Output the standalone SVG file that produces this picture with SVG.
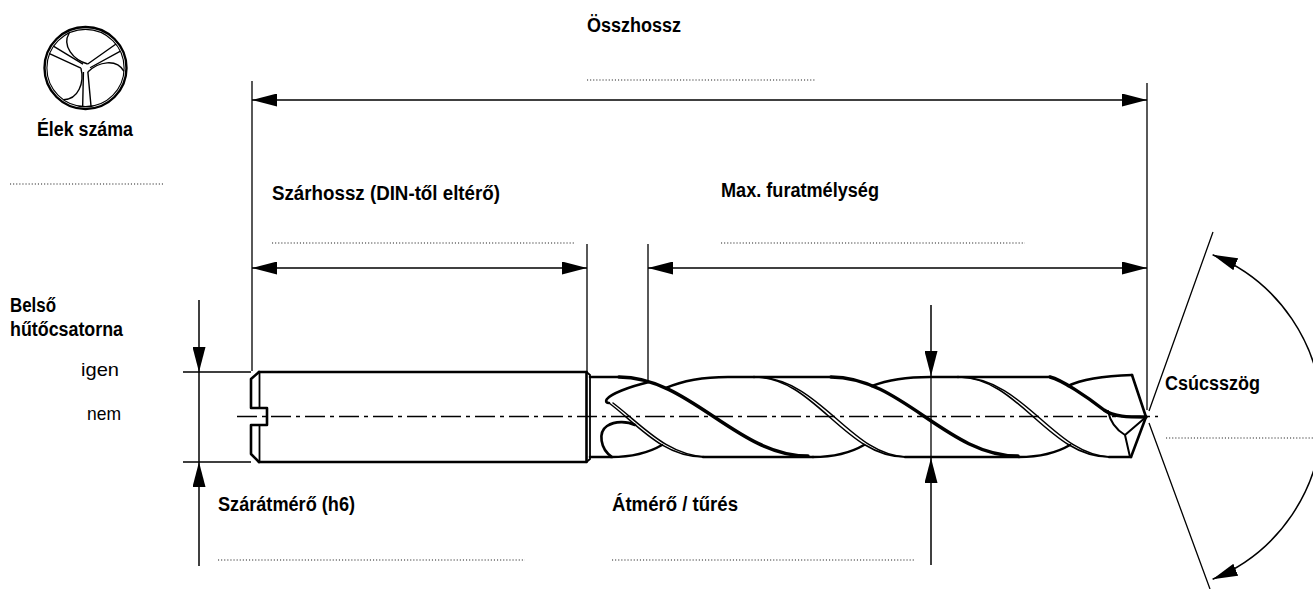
<svg xmlns="http://www.w3.org/2000/svg" xmlns:xlink="http://www.w3.org/1999/xlink" width="1313" height="589" viewBox="0 0 1313 589">
<style>
.o{fill:none;stroke:#000;stroke-width:2.6;stroke-linejoin:round;stroke-linecap:round}
.t{fill:none;stroke:#000;stroke-width:3.4;stroke-linecap:round}
.f{fill:none;stroke:#000;stroke-width:1.5;stroke-linecap:round}
.d{fill:none;stroke:#000;stroke-width:1.5}
.e{fill:none;stroke:#000;stroke-width:1.3}
.dot{fill:none;stroke:#222;stroke-width:1.2;stroke-dasharray:1.1 2}
.ctr{fill:none;stroke:#000;stroke-width:1.4;stroke-dasharray:20 5 4 5}
.lb{font-family:"Liberation Sans",Arial,sans-serif;font-weight:bold;font-size:19.5px;fill:#000}
.lr{font-family:"Liberation Sans",Arial,sans-serif;font-size:19px;fill:#000}
</style>
<defs>
<marker id="ah" viewBox="0 0 25 13" refX="25" refY="6.5" markerWidth="25" markerHeight="13" markerUnits="userSpaceOnUse" orient="auto-start-reverse">
<path d="M0,0 L25,6.5 L0,13 z" fill="#000"/>
</marker>
<g id="flute">
<path d="M-16.3,-35 C-24,-22 -12,-8 2.2,-4" fill="none" stroke="#000" stroke-width="1.4"/>
<path d="M4.56,-0.25 L34.96,-16.9 M2.22,-3.99 L30.5,-24" fill="none" stroke="#000" stroke-width="1.4"/>
</g>
</defs>
<rect width="1313" height="589" fill="#fff"/>

<g id="icon" transform="translate(85.5,68)">
<circle r="41" fill="none" stroke="#000" stroke-width="2.4"/>
<circle r="38.6" fill="none" stroke="#000" stroke-width="1.1"/>
<use xlink:href="#flute"/>
<use xlink:href="#flute" transform="rotate(120)"/>
<use xlink:href="#flute" transform="rotate(240)"/>
</g>

<g id="drill">
<path class="o" d="M259,372 L586,372 M259,462 L586,462"/>
<path class="o" d="M259,372 L251,379 L251,408 L267,408 L267,425 L251,425 L251,454 L259,462"/>
<path class="f" d="M259.5,372 L259.5,408 M259.5,425 L259.5,462" style="stroke-width:1.8"/>
<path class="o" d="M586.5,372 L586.5,462"/>
<path class="f" d="M586.5,372 L590,375 L590,459 L586.5,462" style="stroke-width:1.8"/>
<path class="o" d="M590,377 L619,377 M754,377 L831,377 M958,377 L1050,377"/>
<path class="o" d="M590,457 L611,457 M703,457 L813,457 M905,457 L1019,457 M1109,457 L1131,457"/>
<path class="t" d="M619,377 C690,377 737,456 808,456"/>
<path class="t" d="M831,377 C902,377 947,456 1018,456"/>
<path class="t" d="M1050,377 C1062,380 1086,396 1104,410 C1114,417 1128,417 1146,417"/>
<path class="o" d="M666,388 C684,380 705,377 728,377 L754,377"/>
<path class="o" d="M872,386 C890,379 910,377 930,377 L958,377"/>
<path class="o" d="M1068,386 C1082,379 1102,376 1132,375"/>
<path class="o" d="M649,382 C628,387 611,394 607,399 C605,402 607,403 609,403"/>
<path class="o" d="M612,457 C600,449 598,432 607,426 C615,421 627,421 635,425"/>
<path class="f" d="M609,403 C636,423 662,457 703,457"/>
<path class="f" d="M613,403 C641,424 667,456 707,457"/>
<path class="f" d="M754,377 C815,377 844,457 905,457"/>
<path class="f" d="M756,377 C821,378 850,456 907,457"/>
<path class="f" d="M958,377 C1019,377 1048,457 1109,457"/>
<path class="f" d="M960,377 C1025,378 1054,456 1111,457"/>
<path class="o" d="M611,457 C631,457 650,452 662,445"/>
<path class="o" d="M813,457 C835,457 852,452 864,445"/>
<path class="o" d="M1019,457 C1041,457 1058,452 1070,445"/>
<path class="o" d="M1132,375 L1146,417 L1131,457"/>
<path class="o" d="M1108,411 C1110,421 1115,429 1125,435 L1146,417 M1125,435 L1130,457" style="stroke-width:2"/>
<path class="ctr" d="M237,416.5 L1158,416.5"/>
</g>

<g id="connectors">
<path class="e" d="M252,81 L252,371 M1147,83 L1147,410 M587,244 L587,372 M648,244 L648,382"/>
<path class="e" d="M183,372 L251,372 M183,462 L251,462"/>
<path class="d" d="M252,100 L1147,100" marker-start="url(#ah)" marker-end="url(#ah)"/>
<path class="d" d="M252,268 L587,268" marker-start="url(#ah)" marker-end="url(#ah)"/>
<path class="d" d="M648,268 L1147,268" marker-start="url(#ah)" marker-end="url(#ah)"/>
<path class="d" d="M199,300 L199,372" marker-end="url(#ah)"/>
<path class="d" d="M199,566 L199,462" marker-end="url(#ah)"/>
<path class="d" d="M199,372 L199,462"/>
<path class="d" d="M931,305 L931,376" marker-end="url(#ah)"/>
<path class="d" d="M931,565 L931,458" marker-end="url(#ah)"/>
<path class="e" d="M931,376 L931,458"/>
<path class="e" d="M1149,411 L1213,232 M1149,423 L1210,589"/>
<path class="d" d="M1212.6,254.8 A175,175 0 0 1 1212.6,579.2" marker-start="url(#ah)" marker-end="url(#ah)"/>
</g>

<g id="labels">
<text class="lb" x="587" y="32" textLength="94" lengthAdjust="spacingAndGlyphs">Összhossz</text>
<path class="dot" d="M587,80 L815,80"/>
<text class="lb" x="37" y="136" textLength="96" lengthAdjust="spacingAndGlyphs">Élek száma</text>
<path class="dot" d="M10,184 L163,184"/>
<text class="lb" x="272" y="200" textLength="228" lengthAdjust="spacingAndGlyphs">Szárhossz (DIN-től eltérő)</text>
<path class="dot" d="M272,243 L575,243"/>
<text class="lb" x="721" y="197" textLength="158" lengthAdjust="spacingAndGlyphs">Max. furatmélység</text>
<path class="dot" d="M721,243 L1025,243"/>
<text class="lb" x="10" y="312" textLength="46" lengthAdjust="spacingAndGlyphs">Belső</text>
<text class="lb" x="10" y="336" textLength="113" lengthAdjust="spacingAndGlyphs">hűtőcsatorna</text>
<text class="lr" x="81" y="376" textLength="38" lengthAdjust="spacingAndGlyphs">igen</text>
<text class="lr" x="87" y="420" textLength="34" lengthAdjust="spacingAndGlyphs">nem</text>
<text class="lb" x="218" y="511" textLength="137" lengthAdjust="spacingAndGlyphs">Szárátmérő (h6)</text>
<path class="dot" d="M218,560 L525,560"/>
<text class="lb" x="612" y="511" textLength="126" lengthAdjust="spacingAndGlyphs">Átmérő / tűrés</text>
<path class="dot" d="M612,560 L915,560"/>
<text class="lb" x="1165" y="390" textLength="95" lengthAdjust="spacingAndGlyphs">Csúcsszög</text>
<path class="dot" d="M1166,438 L1313,438"/>
</g>
</svg>
